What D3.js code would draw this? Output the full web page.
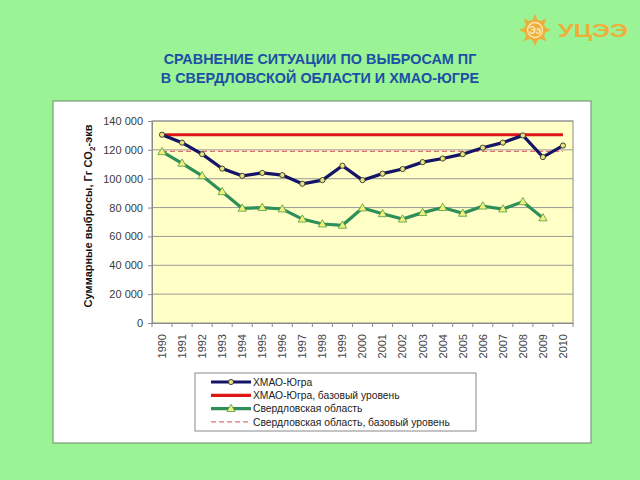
<!DOCTYPE html>
<html>
<head>
<meta charset="utf-8">
<script src="https://cdn.jsdelivr.net/npm/d3@7"></script>
<style>
  body { margin: 0; background: #9af394; }
  svg { display: block; font-family: "Liberation Sans", Arial, sans-serif; }
</style>
</head>
<body>
<div id="root"></div>
<script>
var years = ["1990","1991","1992","1993","1994","1995","1996","1997","1998","1999",
             "2000","2001","2002","2003","2004","2005","2006","2007","2008","2009","2010"];
var hmao = [130500,125000,117000,107000,102000,104000,102500,96500,99000,109000,
            99000,103500,106700,111500,114000,117000,121500,125000,130000,115000,123000];
var sverd = [118700,110700,102000,91000,79500,80000,79000,72000,68600,67700,
             79700,75700,72000,76500,80000,76000,81000,79000,84000,72800];
var hmaoBase = 130500;
var sverdBase = 119000;
var yTicks = [0,20000,40000,60000,80000,100000,120000,140000];
var legendNames = ["ХМАО-Югра", "ХМАО-Югра, базовый уровень",
                   "Свердловская область", "Свердловская область, базовый уровень"];

var width = 640, height = 480;
var plot = { left: 152, right: 573, top: 121, bottom: 323 };

var svg = d3.select("#root").append("svg")
    .attr("width", width)
    .attr("height", height);

svg.append("rect").attr("width", width).attr("height", height).attr("fill", "#9af394");

// title
var title = svg.append("text")
    .attr("text-anchor", "middle")
    .attr("fill", "#1c4fa6")
    .style("font-weight", "bold")
    .style("font-size", "14.4px");
title.append("tspan").attr("x", 320).attr("y", 64).text("СРАВНЕНИЕ СИТУАЦИИ ПО ВЫБРОСАМ ПГ");
title.append("tspan").attr("x", 320).attr("y", 83).text("В СВЕРДЛОВСКОЙ ОБЛАСТИ И ХМАО-ЮГРЕ");

// logo
var logo = svg.append("g").attr("transform", "translate(535,30)");
var rays = d3.range(8).map(function (i) { return i * Math.PI / 4 - Math.PI / 2; });
logo.selectAll("path.ray").data(rays).enter().append("path")
    .attr("d", function (a) {
        var p = [[Math.cos(a - 0.28) * 10, Math.sin(a - 0.28) * 10],
                 [Math.cos(a) * 16, Math.sin(a) * 16],
                 [Math.cos(a + 0.28) * 10, Math.sin(a + 0.28) * 10]];
        return "M" + p.join("L") + "Z";
    })
    .attr("fill", "#eeae3c");
logo.append("circle").attr("r", 10.5).attr("fill", "#eeae3c");
logo.append("circle").attr("r", 7.5).attr("fill", "none").attr("stroke", "#fbe8b0").attr("stroke-width", 1.3);
logo.append("text").attr("text-anchor", "middle").attr("y", 4)
    .attr("fill", "#fbe8b0").style("font-size", "10px").style("font-weight", "bold").text("Ээ");
svg.append("text").attr("x", 558).attr("y", 37)
    .attr("fill", "#eeae3c").style("font-size", "19px").style("font-weight", "bold")
    .attr("textLength", 70).attr("lengthAdjust", "spacingAndGlyphs")
    .text("УЦЭЭ");

// white panel
svg.append("rect")
    .attr("x", 53).attr("y", 101).attr("width", 538).attr("height", 342)
    .attr("fill", "#ffffff").attr("stroke", "#6a8a6a").attr("stroke-width", 1);

var x = d3.scaleBand().domain(years).range([plot.left, plot.right]);
var y = d3.scaleLinear().domain([0, 140000]).range([plot.bottom, plot.top]);

// plot area
svg.append("rect")
    .attr("x", plot.left).attr("y", plot.top)
    .attr("width", plot.right - plot.left).attr("height", plot.bottom - plot.top)
    .attr("fill", "#ffffc6").attr("stroke", "#8c8c8c");

svg.append("g").selectAll("line").data(yTicks.slice(1)).enter().append("line")
    .attr("x1", plot.left).attr("x2", plot.right)
    .attr("y1", function (d) { return y(d); }).attr("y2", function (d) { return y(d); })
    .attr("stroke", "#999").attr("stroke-width", 1);

var fmt = function (d) { return d3.format(",")(d).replace(",", " "); };

var yAxis = svg.append("g")
    .attr("transform", "translate(" + plot.left + ",0)")
    .call(d3.axisLeft(y).tickValues(yTicks).tickFormat(fmt).tickSize(4).tickPadding(5));
yAxis.select(".domain").attr("stroke", "#8c8c8c");
yAxis.selectAll(".tick line").attr("stroke", "#8c8c8c");
yAxis.selectAll("text").attr("fill", "#3a3a3a").style("font-size", "11px")
    .style("font-family", "'Liberation Sans', Arial, sans-serif");

var xAxis = svg.append("g")
    .attr("transform", "translate(0," + plot.bottom + ")")
    .call(d3.axisBottom(x).tickSize(0).tickPadding(0));
xAxis.select(".domain").attr("stroke", "#8c8c8c");
xAxis.selectAll("text")
    .attr("transform", "rotate(-90)")
    .attr("x", -11).attr("y", 0).attr("dy", "0.35em")
    .style("text-anchor", "end")
    .attr("fill", "#444").style("font-size", "11px")
    .style("font-family", "'Liberation Sans', Arial, sans-serif");
// category ticks between bands
svg.append("g").selectAll("line").data(years.concat(["end"])).enter().append("line")
    .attr("x1", function (d, i) { return plot.left + i * x.step(); })
    .attr("x2", function (d, i) { return plot.left + i * x.step(); })
    .attr("y1", plot.bottom).attr("y2", plot.bottom + 4)
    .attr("stroke", "#8c8c8c");

// y label
svg.append("text")
    .attr("transform", "translate(92,216) rotate(-90)")
    .attr("text-anchor", "middle")
    .attr("fill", "#111")
    .style("font-size", "11px").style("font-weight", "bold")
    .html("Суммарные выбросы, Гг CO<tspan dy='3' style='font-size:8px'>2</tspan><tspan dy='-3'>-экв</tspan>");

var cx = function (i) { return x(years[i]) + x.bandwidth() / 2; };

// baselines
svg.append("line")
    .attr("x1", cx(0)).attr("x2", cx(years.length - 1))
    .attr("y1", y(sverdBase)).attr("y2", y(sverdBase))
    .attr("stroke", "#e27272").attr("stroke-width", 1.2).attr("stroke-dasharray", "5,3");
svg.append("line")
    .attr("x1", cx(0)).attr("x2", cx(years.length - 1))
    .attr("y1", y(hmaoBase)).attr("y2", y(hmaoBase))
    .attr("stroke", "#e01616").attr("stroke-width", 3);

var line = d3.line()
    .x(function (d, i) { return cx(i); })
    .y(function (d) { return y(d); });

svg.append("path").datum(sverd).attr("d", line)
    .attr("fill", "none").attr("stroke", "#2f8f58").attr("stroke-width", 3.2);
svg.append("path").datum(hmao).attr("d", line)
    .attr("fill", "none").attr("stroke", "#151568").attr("stroke-width", 3.2);

var tri = d3.symbol().type(d3.symbolTriangle).size(30);
svg.append("g").selectAll("path").data(sverd).enter().append("path")
    .attr("d", tri)
    .attr("transform", function (d, i) { return "translate(" + cx(i) + "," + (y(d) + 0.5) + ")"; })
    .attr("fill", "#f4f07a").attr("stroke", "#4a9a4a").attr("stroke-width", 0.8);
svg.append("g").selectAll("circle").data(hmao).enter().append("circle")
    .attr("cx", function (d, i) { return cx(i); })
    .attr("cy", function (d) { return y(d); })
    .attr("r", 2.6)
    .attr("fill", "#e8e47a").attr("stroke", "#333").attr("stroke-width", 0.9);

// legend
var lg = svg.append("g").attr("transform", "translate(195,373)");
lg.append("rect").attr("width", 281).attr("height", 58)
    .attr("fill", "#fff").attr("stroke", "#888");
var items = lg.selectAll("g.item").data(legendNames).enter().append("g")
    .attr("transform", function (d, i) { return "translate(0," + (9 + i * 13.3) + ")"; });
var lstroke = ["#151568", "#e01616", "#2f8f58", "#e27272"];
items.append("line")
    .attr("x1", 16).attr("x2", 56).attr("y1", 0).attr("y2", 0)
    .attr("stroke", function (d, i) { return lstroke[i]; })
    .attr("stroke-width", function (d, i) { return i === 3 ? 1.2 : 3.2; })
    .attr("stroke-dasharray", function (d, i) { return i === 3 ? "5,3" : null; });
items.filter(function (d, i) { return i === 0; }).append("circle")
    .attr("cx", 36).attr("r", 2.6).attr("fill", "#e8e47a").attr("stroke", "#333").attr("stroke-width", 0.9);
items.filter(function (d, i) { return i === 2; }).append("path")
    .attr("d", tri).attr("transform", "translate(36,0.5)")
    .attr("fill", "#f4f07a").attr("stroke", "#4a9a4a").attr("stroke-width", 0.8);
items.append("text")
    .attr("x", 58).attr("y", 0).attr("dy", "0.35em")
    .attr("fill", "#222").style("font-size", "10.3px")
    .text(function (d) { return d; });
</script>
</body>
</html>
